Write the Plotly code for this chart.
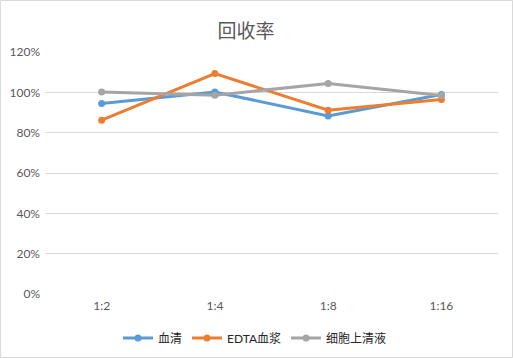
import plotly.graph_objects as go

categories = ["1:2", "1:4", "1:8", "1:16"]
serum = [0.945, 1.002, 0.883, 0.989]
edta_plasma = [0.862, 1.093, 0.911, 0.964]
cell_supernatant = [1.002, 0.986, 1.044, 0.984]
series_names = ["血清", "EDTA血浆", "细胞上清液"]
colors = ["#5B9BD5", "#ED7D31", "#A5A5A5"]
y_ticks = [0, 0.2, 0.4, 0.6, 0.8, 1.0, 1.2]
y_tick_labels = ["0%", "20%", "40%", "60%", "80%", "100%", "120%"]

W, H = 513, 358
ml, mr, mt, mb = 45, 15, 52, 64

fig = go.Figure()
for name, vals, c in zip(series_names, [serum, edta_plasma, cell_supernatant], colors):
    fig.add_trace(go.Scatter(
        x=categories, y=vals, name=name, mode="lines+markers",
        line=dict(color=c, width=3), marker=dict(color=c, size=7),
    ))

pw = W - ml - mr
ph = H - mt - mb
fig.add_shape(type="rect", xref="paper", yref="paper",
              x0=(-ml + 0.5) / pw, x1=(W - ml - 0.5) / pw,
              y0=(-mb + 0.5) / ph, y1=(H - mb - 0.5) / ph,
              line=dict(color="#D9D9D9", width=1), layer="below")

fig.update_layout(
    width=W, height=H,
    margin=dict(l=ml, r=mr, t=mt, b=mb, autoexpand=False),
    paper_bgcolor="white", plot_bgcolor="white",
    font=dict(family="Lato, 'Noto Sans CJK SC', sans-serif", color="#595959", size=12),
    title=dict(text="回收率", x=246 / W, xanchor="center", y=1 - 31 / H, yanchor="middle",
               font=dict(size=19, color="#595959", family="'Noto Sans CJK SC', sans-serif")),
    showlegend=True,
    legend=dict(orientation="h", xref="container", x=255 / W, xanchor="center",
                yref="container", y=1 - 338 / H, yanchor="middle",
                font=dict(size=12, color="#262626", family="Lato, 'Noto Sans CJK SC', sans-serif"),
                itemwidth=30, tracegroupgap=0, bgcolor="rgba(0,0,0,0)"),
    xaxis=dict(type="category", range=[-0.5, 3.5], showgrid=False, showline=False, zeroline=False,
               ticks="", automargin=False, tickfont=dict(size=12, color="#595959"), ticklabelstandoff=3),
    yaxis=dict(range=[0, 1.2], tickvals=y_ticks, ticktext=y_tick_labels, showgrid=True,
               gridcolor="#D9D9D9", gridwidth=1, zeroline=False, showline=False, ticks="",
               automargin=False, tickfont=dict(size=12, color="#595959"), ticklabelstandoff=4),
)

fig.write_html(
    "out.html", config={"displayModeBar": False},
    post_script=("document.body.style.margin='0';"
                 "document.body.style.overflow='hidden';"
                 "document.documentElement.style.overflow='hidden';"),
)
